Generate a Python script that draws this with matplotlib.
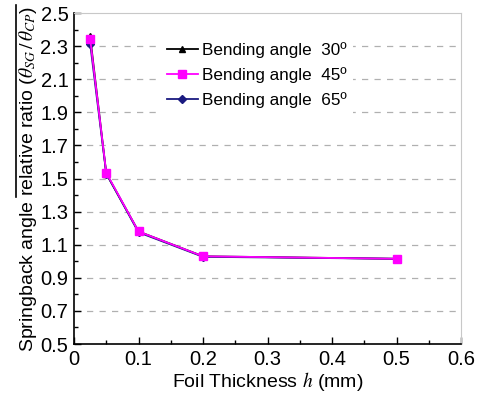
import matplotlib
matplotlib.use('Agg')
import matplotlib.pyplot as plt
import numpy as np
from matplotlib.ticker import MultipleLocator
from matplotlib.lines import Line2D

plt.rcParams['font.family'] = ['Liberation Sans', 'DejaVu Sans']
plt.rcParams['mathtext.fontset'] = 'stix'

thickness = [0.025, 0.05, 0.1, 0.2, 0.5]  # mm
ratio_30 = [2.36, 1.53, 1.18, 1.03, 1.015]
ratio_45 = [2.345, 1.535, 1.18, 1.03, 1.015]
ratio_65 = [2.315, 1.53, 1.175, 1.027, 1.015]

fig = plt.figure(figsize=(4.79, 3.99), dpi=100)
ax = fig.add_axes([0.1545, 0.1378, 0.808, 0.8296])

ax.plot(thickness, ratio_30, color='black', marker='^', markersize=5, lw=1.3,
        label='Bending angle  30º', zorder=3)
ax.plot(thickness, ratio_65, color='#1a1a80', marker='D', markersize=4, lw=1.3,
        label='Bending angle  65º', zorder=4)
ax.plot(thickness, ratio_45, color='#ff00ff', marker='s', markersize=5.5, lw=1.3,
        label='Bending angle  45º', zorder=5)

ax.set_xlim(0, 0.6)
ax.set_ylim(0.5, 2.5)
ax.xaxis.set_minor_locator(MultipleLocator(0.05))
ax.yaxis.set_minor_locator(MultipleLocator(0.1))
ax.set_xticks(np.arange(0, 0.61, 0.1))
ax.set_xticklabels(['0', '0.1', '0.2', '0.3', '0.4', '0.5', '0.6'])
ax.set_yticks(np.arange(0.5, 2.51, 0.2))
ax.set_yticklabels(['%.1f' % v for v in np.arange(0.5, 2.51, 0.2)])

ax.tick_params(which='both', direction='in', labelsize=14.5, top=False, right=False)
ax.tick_params(which='major', length=5, width=1, pad=4)
ax.tick_params(which='minor', length=3, width=1)
for s in ['top', 'right']:
    ax.spines[s].set_color('#c8c8c8')
for s in ['left', 'bottom']:
    ax.spines[s].set_linewidth(1.2)

for v in np.arange(0.7, 2.4, 0.2):
    ax.axhline(v, color='#b0b0b0', lw=0.9, ls=(0, (5, 5)), zorder=1)

ax.set_xlabel('Foil Thickness $h$ (mm)', fontsize=14, labelpad=1)
ax.set_ylabel(r'Springback angle relative ratio ($\theta_{SG}\,/\,\theta_{CP}$)',
              fontsize=14, labelpad=1)

handles, labels = ax.get_legend_handles_labels()
order = [0, 2, 1]
leg = ax.legend([handles[i] for i in order], [labels[i] for i in order],
                loc='upper left', bbox_to_anchor=(0.2, 0.96), fontsize=12.3,
                frameon=True, facecolor='white', edgecolor='none', framealpha=1,
                handlelength=1.8, handletextpad=0.25, labelspacing=0.55,
                borderpad=0.4, fancybox=False)
leg.set_zorder(6)

fig.add_artist(Line2D([16 / 479, 16 / 479], [1 - 5 / 399, 1 - 197 / 399],
                      color='black', lw=1.2))

fig.savefig('out.png', dpi=100)
